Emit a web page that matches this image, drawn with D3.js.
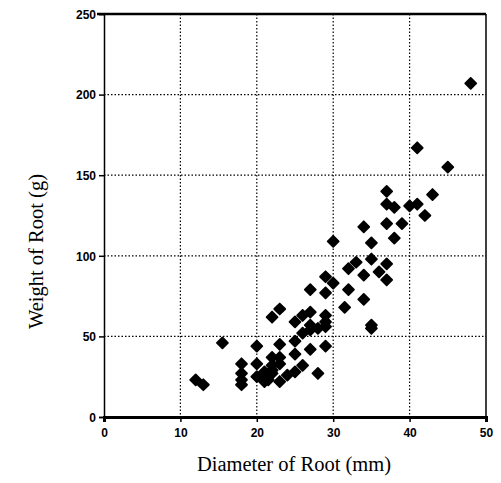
<!DOCTYPE html>
<html>
<head>
<meta charset="utf-8">
<script src="https://cdn.jsdelivr.net/npm/d3@7"></script>
<style>
body { margin: 0; background: #fff; }
.tick text { font-family: "Liberation Sans", Arial, sans-serif; font-size: 12px; font-weight: bold; fill: #000; }
.title { font-family: "Liberation Serif", "Times New Roman", serif; font-size: 20.5px; fill: #000; }
</style>
</head>
<body>
<script>
// diameter (mm) and weight (g) of each root
var diameter = [12, 13, 15.5, 18, 18, 18, 18, 20, 20, 20, 21, 21, 21.5, 21.5, 22, 22, 22, 22,
  23, 23, 23, 23, 22, 23, 24, 25, 25, 25, 25, 26, 26, 26, 27, 27, 27, 27, 27,
  28, 28, 29, 29, 29, 29, 29, 29, 30, 30, 31.5, 32, 32, 33, 34, 34, 34, 35, 35, 35, 35,
  36, 37, 37, 37, 37, 37, 38, 38, 39, 40, 41, 41, 42, 43, 45, 48];
var weight = [23, 20, 46, 33, 27, 23, 20, 44, 33, 25, 28, 22, 25, 23, 37, 32, 27, 29,
  37, 33, 22, 45, 62, 67, 26, 28, 39, 47, 59, 32, 52, 63, 42, 54, 57, 65, 79,
  27, 55, 44, 56, 59, 63, 77, 87, 83, 109, 68, 79, 92, 96, 73, 88, 118, 57, 55, 98, 108,
  90, 85, 95, 120, 132, 140, 111, 130, 120, 131, 132, 167, 125, 138, 155, 207];
var xTicks = [0, 10, 20, 30, 40, 50];
var yTicks = [0, 50, 100, 150, 200, 250];
var xTitle = "Diameter of Root (mm)";
var yTitle = "Weight of Root (g)";

var margin = {top: 14, right: 15, bottom: 66, left: 104};
var w = 501 - margin.left - margin.right;
var h = 483 - margin.top - margin.bottom;

var svg = d3.select("body").append("svg")
  .attr("width", 501)
  .attr("height", 483);

var g = svg.append("g")
  .attr("transform", "translate(" + margin.left + "," + margin.top + ")");

var xScale = d3.scaleLinear().domain([0, 50]).range([0, w]);
var yScale = d3.scaleLinear().domain([0, 250]).range([h, 0]);

// dotted grid
g.selectAll(".vgrid").data(xTicks.slice(1, -1)).enter().append("line")
  .attr("x1", function(d) { return xScale(d); })
  .attr("x2", function(d) { return xScale(d); })
  .attr("y1", 0).attr("y2", h)
  .attr("stroke", "#000").attr("stroke-width", 1.2)
  .attr("stroke-dasharray", "1.5,2");
g.selectAll(".hgrid").data(yTicks.slice(1, -1)).enter().append("line")
  .attr("x1", 0).attr("x2", w)
  .attr("y1", function(d) { return yScale(d); })
  .attr("y2", function(d) { return yScale(d); })
  .attr("stroke", "#000").attr("stroke-width", 1.2)
  .attr("stroke-dasharray", "1.5,2");

// frame: thick top, thin right
g.append("line").attr("x1", -7).attr("x2", w).attr("y1", 0).attr("y2", 0)
  .attr("stroke", "#000").attr("stroke-width", 2.5);
g.append("line").attr("x1", w).attr("x2", w).attr("y1", 0).attr("y2", h)
  .attr("stroke", "#000").attr("stroke-width", 1.5);

var xAxis = d3.axisBottom(xScale).tickValues(xTicks).tickSize(5).tickPadding(6);
var yAxis = d3.axisLeft(yScale).tickValues(yTicks).tickSize(5).tickPadding(3);

var xg = g.append("g").attr("transform", "translate(0," + h + ")").call(xAxis);
xg.select(".domain").attr("stroke-width", 3);
xg.selectAll(".tick line").attr("stroke-width", 1.5);

var yg = g.append("g").call(yAxis);
yg.select(".domain").attr("stroke-width", 1.5);
yg.selectAll(".tick line").attr("stroke-width", 1.5);
yg.selectAll(".tick text").attr("dy", "0.35em");

// points: rounded black diamonds
g.selectAll(".pt").data(diameter).enter().append("path")
  .attr("class", "pt")
  .attr("d", d3.symbol(d3.symbolSquare, 60))
  .attr("transform", function(d, i) {
    return "translate(" + xScale(d) + "," + yScale(weight[i]) + ") rotate(45)";
  })
  .attr("fill", "#000")
  .attr("stroke", "#000")
  .attr("stroke-width", 1.8)
  .attr("stroke-linejoin", "round");

svg.append("text").attr("class", "title")
  .attr("x", margin.left + w / 2 - 1).attr("y", 471)
  .attr("text-anchor", "middle")
  .text(xTitle);

svg.append("text").attr("class", "title")
  .attr("transform", "translate(43," + (margin.top + h / 2 + 36) + ") rotate(-90)")
  .attr("text-anchor", "middle")
  .text(yTitle);
</script>
</body>
</html>
